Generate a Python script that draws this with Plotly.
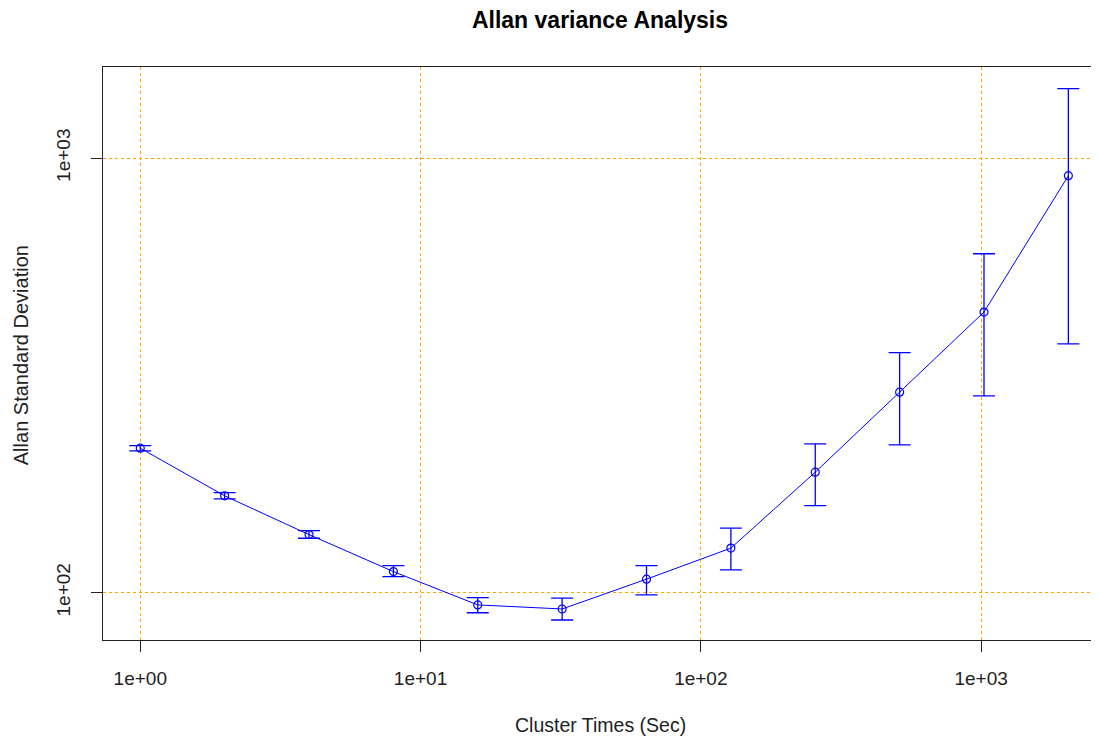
import plotly.graph_objects as go

cluster_times = [1, 2, 4, 8, 16, 32, 64, 128, 256, 512, 1024, 2048]
allan_sd = [215.0, 167.0, 136.0, 111.8, 93.7, 91.7, 107.4, 126.6, 189.3, 289.3, 442.2, 910.7]
ci_lower = [211.9, 164.3, 133.4, 108.8, 89.9, 86.5, 98.8, 112.8, 158.6, 218.8, 283.7, 373.6]
ci_upper = [217.9, 169.9, 138.9, 115.4, 97.4, 97.1, 115.4, 140.7, 219.9, 356.8, 602.2, 1443.9]

x_tickvals = [1, 10, 100, 1000]
x_ticktext = ["1e+00", "1e+01", "1e+02", "1e+03"]
y_tickvals = [100, 1000]
y_ticktext = ["1e+02", "1e+03"]

err_plus = [u - v for u, v in zip(ci_upper, allan_sd)]
err_minus = [v - l for v, l in zip(allan_sd, ci_lower)]

fig = go.Figure()
fig.add_trace(go.Scatter(
    x=cluster_times, y=allan_sd,
    mode="lines+markers",
    line=dict(color="#0000FF", width=1),
    marker=dict(symbol="circle-open", size=8, color="#0000FF", line=dict(width=1.2, color="#0000FF")),
    error_y=dict(type="data", symmetric=False, array=err_plus, arrayminus=err_minus,
                 color="#0000FF", thickness=1.3, width=11),
    showlegend=False,
))

font_family = "Liberation Sans, Arial, sans-serif"
axis_color = "#222222"

fig.update_layout(
    width=1091, height=732,
    margin=dict(l=95, r=2, t=59, b=100),
    paper_bgcolor="white", plot_bgcolor="white",
    font=dict(family=font_family, color=axis_color, size=19),
    title=dict(text="<b>Allan variance Analysis</b>", x=0.5, xref="paper",
               y=1 - 12 / 732, yref="container", yanchor="middle",
               font=dict(size=23, color="black", family=font_family)),
    xaxis=dict(type="log", range=[-0.133, 3.4135],
               tickvals=x_tickvals, ticktext=x_ticktext,
               showgrid=True, gridcolor="#FFA500", griddash="dot", gridwidth=1,
               showline=True, mirror=True, linecolor=axis_color, linewidth=1,
               ticks="outside", ticklen=11, tickcolor=axis_color, zeroline=False,
               ticklabelstandoff=10, tickfont=dict(size=19)),
    yaxis=dict(type="log", range=[1.891, 3.2095],
               tickvals=y_tickvals, ticktext=y_ticktext, tickangle=-90,
               showgrid=True, gridcolor="#FFA500", griddash="dot", gridwidth=1,
               showline=True, mirror=True, linecolor=axis_color, linewidth=1,
               ticks="outside", ticklen=11, tickcolor=axis_color, zeroline=False,
               ticklabelstandoff=13, tickfont=dict(size=19)),
    annotations=[
        dict(text="Cluster Times (Sec)", xref="paper", yref="paper",
             x=0.5, y=-85 / 573, yanchor="middle", xanchor="center",
             showarrow=False, font=dict(size=19.5, color=axis_color)),
        dict(text="Allan Standard Deviation", xref="paper", yref="paper",
             x=-82 / 994, y=0.497, xanchor="center", yanchor="middle",
             textangle=-90, showarrow=False, font=dict(size=20, color=axis_color)),
    ],
)

fig.write_html("out.html")
